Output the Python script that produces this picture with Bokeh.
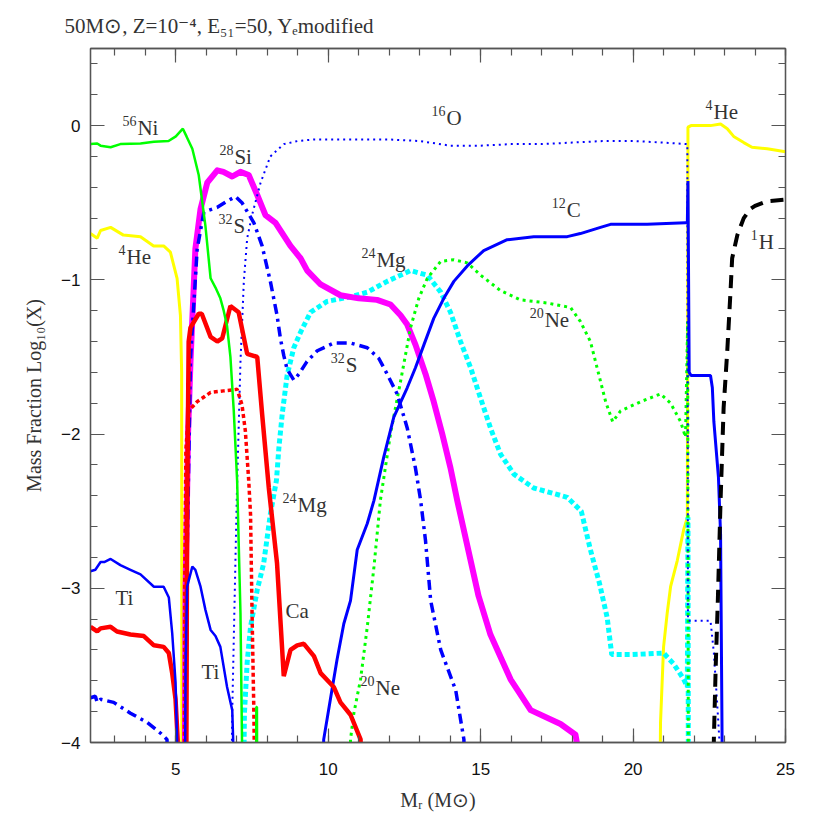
from bokeh.plotting import figure
from bokeh.models import LinearAxis, Range1d, SingleIntervalTicker, CustomJSTickFormatter
from bokeh.embed import file_html
from bokeh.resources import INLINE
from bokeh.core.properties import value

# ---------------- data ----------------
ni56_x = [2.2, 2.42, 2.53, 2.86, 3.18, 3.84, 4.28, 4.76, 5.0, 5.23, 5.35, 5.54, 5.75, 5.97, 6.14,
          6.3, 6.46, 6.57, 6.68, 6.79, 6.9, 7.01, 7.12, 7.17, 7.19, 7.62, 7.64, 7.66, 7.68]
ni56_y = [-0.12, -0.116, -0.13, -0.14, -0.12, -0.116, -0.105, -0.10, -0.07, -0.02, -0.07, -0.15, -0.32,
          -0.65, -0.99, -1.05, -1.12, -1.2, -1.3, -1.5, -1.85, -2.3, -3.16, -3.98, -5, -5, -3.77, -3.77, -5]

he4_x = [2.2, 2.42, 2.53, 2.86, 3.28, 3.84, 4.27, 4.6, 4.82, 5.04, 5.15, 5.19, 5.2, 20.85, 20.9, 21.0,
         21.12, 21.23, 21.45, 21.66, 21.78, 21.8, 21.9, 22.54, 22.87, 23.09, 23.3, 23.63, 23.9, 24.4, 25.0]
he4_y = [-0.70, -0.73, -0.68, -0.66, -0.71, -0.72, -0.78, -0.78, -0.82, -0.99, -1.23, -1.6, -5, -5, -3.87,
         -3.38, -3.16, -2.99, -2.82, -2.62, -2.54, -0.01, 0.0, 0.0, 0.01, -0.02, -0.07, -0.11, -0.14, -0.15, -0.17]

o16_x = [6.8, 6.84, 6.85, 7.0, 7.12, 7.23, 7.34, 7.5, 7.78, 8.1, 8.54, 9.0, 9.52, 10.0, 11.0, 12.0, 13.0,
         14.0, 15.0, 16.0, 17.0, 18.0, 19.0, 20.0, 21.0, 21.78, 21.8, 22.54, 22.65, 22.75, 22.83, 22.86]
o16_y = [-5, -3.98, -3.8, -2.4, -1.53, -1.01, -0.73, -0.58, -0.37, -0.2, -0.12, -0.1, -0.09, -0.09, -0.09,
         -0.09, -0.1, -0.13, -0.13, -0.12, -0.12, -0.11, -0.1, -0.1, -0.11, -0.12, -3.21, -3.21, -3.42,
         -3.72, -3.98, -5]

si28_x = [5.28, 5.32, 5.4, 5.48, 5.64, 5.81, 6.03, 6.36, 6.56, 6.85, 7.12, 7.39, 7.67, 7.94, 8.27, 8.76,
          9.09, 9.31, 9.75, 10.4, 11.0, 11.6, 12.04, 12.37, 12.59, 12.86, 13.19, 13.46, 13.74, 14.01,
          14.23, 14.67, 14.93, 15.32, 15.98, 16.64, 17.62, 18.11, 18.2, 18.25]
si28_y = [-5, -3.0, -2.0, -1.53, -0.80, -0.54, -0.37, -0.29, -0.30, -0.33, -0.30, -0.32, -0.45, -0.58,
          -0.63, -0.78, -0.86, -0.94, -1.03, -1.10, -1.12, -1.13, -1.16, -1.23, -1.29, -1.42, -1.61,
          -1.79, -2.0, -2.22, -2.43, -2.82, -3.05, -3.30, -3.59, -3.79, -3.88, -3.95, -4.05, -5]

s32_x = [2.2, 2.36, 2.42, 2.53, 2.96, 3.51, 4.06, 4.5, 4.71, 4.8, 5.28, 5.35, 5.48, 5.7, 5.92, 6.36,
         6.68, 6.96, 7.17, 7.56, 7.83, 8.1, 8.32, 8.43, 8.54, 8.65, 8.87, 9.04, 9.3, 9.64, 10.18, 10.73,
         11.28, 11.66, 11.93, 12.26, 12.59, 12.86, 13.03, 13.19, 13.36, 13.69, 14.18, 14.34, 14.45, 14.5]
s32_y = [-3.71, -3.70, -3.74, -3.72, -3.74, -3.81, -3.87, -3.94, -3.98, -5, -5, -3.0, -1.51, -0.80,
         -0.56, -0.53, -0.49, -0.46, -0.50, -0.63, -0.78, -1.01, -1.23, -1.38, -1.49, -1.58, -1.65,
         -1.61, -1.53, -1.46, -1.41, -1.41, -1.44, -1.51, -1.61, -1.74, -1.96, -2.22, -2.43, -2.69,
         -3.08, -3.4, -3.66, -3.85, -3.98, -5]

mg24_x = [7.22, 7.24, 7.25, 7.34, 7.45, 7.67, 7.88, 8.1, 8.3, 8.38, 8.49, 8.65, 8.87, 9.09, 9.42,
          9.96, 10.73, 11.28, 11.93, 12.7, 13.25, 13.69, 14.01, 14.34, 14.67, 15.0, 15.32, 15.65,
          16.09, 16.74, 17.84, 18.3, 18.6, 18.9, 19.15, 19.3, 19.92, 21.0, 21.33, 21.66, 21.78, 21.8, 21.82]
mg24_y = [-5, -3.98, -3.81, -3.48, -3.25, -3.01, -2.84, -2.52, -2.30, -2.09, -1.87, -1.62, -1.44,
          -1.34, -1.21, -1.14, -1.11, -1.08, -1.01, -0.94, -0.97, -1.08, -1.21, -1.40, -1.57, -1.77,
          -1.96, -2.13, -2.26, -2.35, -2.41, -2.5, -2.75, -2.97, -3.19, -3.43, -3.43, -3.42, -3.49,
          -3.59, -3.64, -2.54, -5]

ne20_x = [10.7, 10.73, 10.84, 11.06, 11.28, 11.5, 11.71, 12.04, 12.37, 12.7, 12.97, 13.25, 13.69,
          14.12, 14.56, 15.0, 15.65, 16.31, 17.18, 17.95, 18.27, 18.6, 18.87, 19.1, 19.33, 19.59,
          20.25, 20.9, 21.23, 21.56, 21.72, 21.79, 21.82]
ne20_y = [-5, -3.98, -3.81, -3.59, -3.25, -2.86, -2.43, -2.0, -1.66, -1.31, -1.12, -0.99, -0.88,
          -0.87, -0.89, -0.97, -1.07, -1.13, -1.15, -1.18, -1.27, -1.40, -1.61, -1.79, -1.92, -1.85,
          -1.79, -1.74, -1.80, -1.92, -2.02, -1.27, -5]

c12_x = [9.8, 9.85, 10.07, 10.29, 10.51, 10.73, 10.95, 11.28, 11.5, 11.82, 12.15, 12.59, 12.86,
         13.14, 13.46, 13.79, 14.12, 14.56, 15.1, 15.87, 16.74, 17.84, 18.27, 18.93, 19.26, 20.46,
         21.72, 21.78, 21.8, 21.84, 21.9, 22.54, 22.6, 22.65, 22.8, 22.87, 22.92, 22.94]
c12_y = [-5, -3.98, -3.72, -3.46, -3.23, -3.08, -2.75, -2.58, -2.43, -2.15, -1.89, -1.70, -1.57,
         -1.42, -1.25, -1.12, -1.01, -0.91, -0.81, -0.74, -0.72, -0.72, -0.70, -0.66, -0.64, -0.64,
         -0.63, -0.63, -0.36, -1.60, -1.62, -1.62, -1.7, -1.92, -2.28, -2.65, -3.98, -5]

h1_x = [22.6, 22.65, 22.71, 22.78, 22.87, 22.97, 23.09, 23.2, 23.25, 23.42, 23.63, 23.85, 24.0, 24.4, 25.0]
h1_y = [-5, -3.98, -3.51, -3.08, -2.43, -1.83, -1.46, -1.06, -0.86, -0.71, -0.60, -0.54, -0.52, -0.49, -0.48]

ca_x = [2.2, 2.42, 2.53, 2.86, 3.07, 3.51, 3.95, 4.28, 4.6, 4.77, 4.88, 4.99, 5.06, 5.1, 5.33, 5.37,
        5.42, 5.48, 5.75, 5.85, 6.14, 6.36, 6.52, 6.79, 7.06, 7.34, 7.67, 7.83, 8.05, 8.32, 8.54,
        8.76, 8.98, 9.2, 9.53, 9.75, 10.18, 10.4, 10.73, 11.06, 11.1]
ca_y = [-3.25, -3.28, -3.26, -3.25, -3.28, -3.30, -3.31, -3.37, -3.38, -3.42, -3.55, -3.72, -3.98, -5,
        -5, -2.5, -1.4, -1.31, -1.22, -1.22, -1.37, -1.40, -1.38, -1.17, -1.21, -1.48, -1.50, -1.87,
        -2.35, -2.84, -3.57, -3.40, -3.37, -3.36, -3.44, -3.55, -3.64, -3.74, -3.82, -3.98, -5]

red_dot_x = [5.27, 5.29, 5.33, 5.42, 5.7, 6.14, 6.57, 7.01, 7.17, 7.28, 7.39, 7.45, 7.5, 7.56, 7.57, 7.6]
red_dot_y = [-5, -3.0, -2.1, -1.85, -1.79, -1.73, -1.72, -1.71, -1.81, -1.98, -2.30, -2.52, -3.16,
             -3.81, -3.98, -5]

ti_x = [2.2, 2.36, 2.53, 2.65, 2.86, 3.18, 3.51, 3.84, 4.28, 4.6, 4.77, 4.88, 4.99, 5.04, 5.08, 5.28,
        5.32, 5.37, 5.54, 5.64, 5.81, 5.97, 6.14, 6.3, 6.46, 6.68, 6.85, 6.88, 6.9]
ti_y = [-2.89, -2.88, -2.83, -2.83, -2.81, -2.85, -2.88, -2.91, -2.99, -2.99, -3.06, -3.29, -3.61,
        -3.98, -5, -5, -3.51, -2.99, -2.86, -2.88, -2.99, -3.14, -3.27, -3.31, -3.38, -3.64, -3.79, -3.98, -5]

# curve labels: mass number (superscript) + element symbol, anchored at the symbol's left edge
label_mass = ["56", "28", "32", "4", "16", "4", "12", "1", "24", "20", "32", "24", "", "", "", "20"]
label_elem = ["Ni", "Si", "S", "He", "O", "He", "C", "H", "Mg", "Ne", "S", "Mg", "Ti", "Ca", "Ti", "Ne"]
label_x = [3.74, 6.92, 6.89, 3.38, 13.88, 22.64, 17.82, 24.12, 11.58, 17.10, 10.57, 8.99, 3.02, 8.60, 5.84, 11.55]
label_y = [-0.013, -0.206, -0.65, -0.85, 0.05, 0.09, -0.55, -0.755, -0.87, -1.26, -1.55, -2.46, -3.06,
           -3.15, -3.54, -3.645]

title_text = "50M⊙, Z=10⁻⁴, E₅₁=50, Yₑmodified"
x_label = "Mᵣ (M⊙)"
y_label = "Mass Fraction Log₁₀(X)"

# ---------------- figure ----------------
p = figure(width=810, height=820, x_range=Range1d(2.2, 25), y_range=Range1d(-4, 0.5),
           output_backend="svg", toolbar_location=None,
           x_axis_location=None, y_axis_location=None,
           min_border_left=90, min_border_right=25, min_border_top=45, min_border_bottom=78)
p.grid.visible = False
p.outline_line_color = "#555555"
p.outline_line_width = 1.3
p.background_fill_color = "white"
p.border_fill_color = "white"

serif = "Liberation Serif"
sans = "Liberation Sans"

p.title.text = title_text
p.title.text_font = serif
p.title.text_font_size = "21px"
p.title.text_font_style = "normal"
p.title.text_color = "#333333"
p.title.align = "left"
p.title.offset = -26
p.title.standoff = 22


def make_axis(interval, labels, label_text=None):
    ax = LinearAxis(ticker=SingleIntervalTicker(interval=interval, num_minor_ticks=5))
    ax.major_tick_in = 14
    ax.major_tick_out = 0
    ax.minor_tick_in = 7
    ax.minor_tick_out = 0
    ax.axis_line_color = "#555555"
    ax.axis_line_width = 1.3
    ax.major_tick_line_color = "#555555"
    ax.minor_tick_line_color = "#555555"
    ax.major_tick_line_width = 1.2
    ax.minor_tick_line_width = 1.2
    if labels:
        ax.major_label_text_font = sans
        ax.major_label_text_font_size = "17px"
        ax.major_label_text_color = "#111111"
        if label_text is not None:
            ax.axis_label = label_text
            ax.axis_label_text_font = serif
            ax.axis_label_text_font_style = "normal"
            ax.axis_label_text_font_size = "20px"
            ax.axis_label_text_color = "#333333"
    else:
        ax.formatter = CustomJSTickFormatter(code="return ''")
        ax.major_label_standoff = 0
        ax.major_label_text_font_size = "1px"
    return ax


bottom = make_axis(5, True, x_label)
bottom.major_label_standoff = 20
bottom.axis_label_standoff = 11
left = make_axis(1, True, y_label)
left.major_label_standoff = 10
left.axis_label_standoff = 13
top = make_axis(5, False)
right = make_axis(1, False)
p.add_layout(bottom, "below")
p.add_layout(left, "left")
p.add_layout(top, "above")
p.add_layout(right, "right")

# ---------------- lines ----------------
p.line(he4_x, he4_y, color="#ffff00", line_width=3)
p.line(mg24_x, mg24_y, color="#00ffff", line_width=5, line_dash="5 3")
p.line(si28_x, si28_y, color="#ff00ff", line_width=6, line_join="round")
p.line(ne20_x, ne20_y, color="#00ff00", line_width=3, line_dash="3 4")
p.line(o16_x, o16_y, color="#0000ff", line_width=2, line_dash="2 4")
p.line(s32_x, s32_y, color="#0000ff", line_width=3.5, line_dash="10 5 3 5")
p.line(c12_x, c12_y, color="#0000ff", line_width=3)
p.line(h1_x, h1_y, color="#000000", line_width=4, line_dash="13 8")
p.line(ca_x, ca_y, color="#ff0000", line_width=4.5)
p.line(red_dot_x, red_dot_y, color="#ff0000", line_width=3.5, line_dash="4 3")
p.line(ti_x, ti_y, color="#0000ff", line_width=2.5)
p.line(ni56_x, ni56_y, color="#00ff00", line_width=2.5)

# ---------------- labels ----------------
p.text(x=label_x, y=label_y, text=label_elem, text_font=value(serif), text_font_size="21px",
       text_color="#333333", text_align="left", text_baseline="middle")
p.text(x=label_x, y=label_y, text=label_mass, text_font=value(serif), text_font_size="14px",
       text_color="#333333", text_align="right", text_baseline="middle", x_offset=-1, y_offset=-7)

open("out.html", "w").write(file_html(p, INLINE))
